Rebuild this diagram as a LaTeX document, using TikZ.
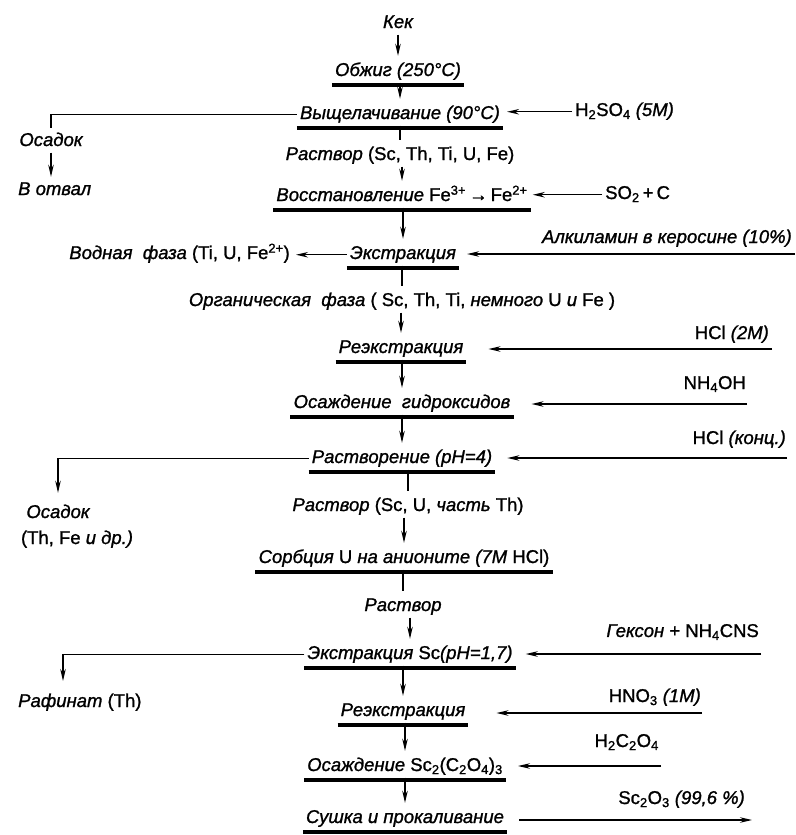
\documentclass[tikz,border=0pt]{standalone}
\usepackage{fontspec}
\setmainfont{Liberation Sans}[FakeBold=1.2]
\usetikzlibrary{arrows.meta}

% upright symbols inside italic labels
\newcommand{\chem}[1]{\textup{#1}}

\begin{document}
\begin{tikzpicture}[x=1pt, y=-1pt,
        every node/.style={font=\fontsize{18.5}{21}\selectfont\itshape, anchor=base,
            inner xsep=3pt, inner ysep=1.5pt, text height=13.5pt, text depth=5pt},
        bar/.style={line width=3.8pt},
        flow/.style={-{Stealth[length=12pt, width=5.5pt]}, line width=1.4pt, shorten >=5pt},
        link/.style={line width=1.4pt, shorten >=5pt}]
        \useasboundingbox (0,0) rectangle (795,835);

        % Main column
        \node (kek)     at (398,28)  {Кек};
        \node (obzhig)  at (398,76)  {Обжиг (250°C)};
        \node (vysh)    at (400,119) {Выщелачивание (90°C)};
        \node (rastv1)  at (400,160) {Раствор \chem{(Sc, Th, Ti, U, Fe)}};
        \node (vosst)   at (402,201) {Восстановление \chem{Fe\textsuperscript{3+}\,→\,Fe\textsuperscript{2+}}};
        \node (ekstr1)  at (403,259) {Экстракция};
        \node (orgf)    at (402,306) {Органическая~~фаза \chem{( Sc, Th, Ti,} немного \chem{U} и \chem{Fe )}};
        \node (reex1)   at (401,353) {Реэкстракция};
        \node (osgidr)  at (402,408) {Осаждение~~гидроксидов};
        \node (rastvor) at (402,463) {Растворение (pH=4)};
        \node (rastv2)  at (408,511) {Раствор \chem{(Sc, U,} часть \chem{Th)}};
        \node (sorb)    at (404,563) {Сорбция \chem{U} на анионите (7M \chem{HCl)}};
        \node (rastv3)  at (403,611) {Раствор};
        \node (ekstrsc) at (410,659) {Экстракция \chem{Sc}(pH=1,7)};
        \node (reex2)   at (403,716) {Реэкстракция};
        \node (ossc)    at (405,771) {Осаждение \chem{Sc\textsubscript{2}(C\textsubscript{2}O\textsubscript{4})\textsubscript{3}}};
        \node (sushka)  at (405,823) {Сушка и прокаливание};

        % Side products
        \node (osadok1) at (51,146) {Осадок};
        \node[anchor=base west] (votval) at (15,195) {В отвал};
        \node[anchor=base east] (vodn) at (293,259) {Водная~~фаза \chem{(Ti, U, Fe\textsuperscript{2+})}};
        \node (osadok2) at (58,518) {Осадок};
        \node (thfe)    at (77,544) {\chem{(Th, Fe} и др.)};
        \node[anchor=base west] (rafinat) at (15,707) {Рафинат \chem{(Th)}};
        \coordinate (raf) at (63,681);

        % Reagents
        \node[anchor=base west] (h2so4) at (572,116) {\chem{H\textsubscript{2}SO\textsubscript{4}} (5M)};
        \node[anchor=base west] (so2)   at (602,199) {\chem{SO\textsubscript{2}\,+\,C}};
        \node[anchor=base east] (alk)    at (795,243) {Алкиламин в керосине (10\%)};
        \node[anchor=base east] (hcl2)   at (772,339) {\chem{HCl} (2M)};
        \node[anchor=base east] (nh4oh)  at (749,389) {\chem{NH\textsubscript{4}OH}};
        \node[anchor=base east] (hclk)   at (789,444) {\chem{HCl} (конц.)};
        \node[anchor=base east] (gekson) at (762,637) {Гексон \chem{+ NH\textsubscript{4}CNS}};
        \node[anchor=base east] (hno3)   at (704,702) {\chem{HNO\textsubscript{3}} (1M)};
        \node[anchor=base east] (h2c2o4) at (662,747) {\chem{H\textsubscript{2}C\textsubscript{2}O\textsubscript{4}}};
        \node[anchor=base east] (sc2o3)  at (748,804) {\chem{Sc\textsubscript{2}O\textsubscript{3}} (99,6 \%)};
        \coordinate (alkin)   at (795,254);
        \coordinate (hcl2in)  at (772,349);
        \coordinate (nh4ohin) at (747,404);
        \coordinate (hclkin)  at (787,458);
        \coordinate (geksin)  at (761,654);
        \coordinate (hno3in)  at (702,713);
        \coordinate (oxin)    at (661,766);
        \coordinate (product) at (752,820);

        % Column flow
        \foreach \a/\b in {kek/obzhig, obzhig/vysh, rastv1/vosst, vosst/ekstr1,
                orgf/reex1, reex1/osgidr, osgidr/rastvor, rastv2/sorb,
                rastv3/ekstrsc, ekstrsc/reex2, reex2/ossc, ossc/sushka}
            \draw[flow] (\b.north |- \a.south) -- (\b.north);
        \foreach \a/\b in {vysh/rastv1, ekstr1/orgf, rastvor/rastv2, sorb/rastv3}
            \draw[link] (\b.north |- \a.south) -- (\b.north);

        % Side branches
        \draw[link, shorten >=3pt] (vysh.west) -| (osadok1.north);
        \draw[flow, shorten >=3pt] (osadok1.south) -- (osadok1.south |- votval.north);
        \draw[flow, shorten >=3pt] (ekstr1.west) -- (vodn.east);
        \draw[flow, shorten >=10pt] (rastvor.west) -| (osadok2.north);
        \draw[flow, shorten >=0pt] (ekstrsc.west) -| (raf);

        % Reagent inputs
        \draw[flow, shorten >=4pt] (h2so4.west) -- (h2so4.west -| vysh.east);
        \draw[flow, shorten >=2pt] (so2.west) -- (so2.west -| vosst.east);
        \draw[flow, shorten >=8pt] (alkin) -- (alkin -| ekstr1.east);
        \draw[flow, shorten >=22pt] (hcl2in) -- (hcl2in -| reex1.east);
        \draw[flow, shorten >=18pt] (nh4ohin) -- (nh4ohin -| osgidr.east);
        \draw[flow, shorten >=12pt] (hclkin) -- (hclkin -| rastvor.east);
        \draw[flow, shorten >=10pt] (geksin) -- (geksin -| ekstrsc.east);
        \draw[flow, shorten >=28pt] (hno3in) -- (hno3in -| reex2.east);
        \draw[flow, shorten >=12pt] (oxin) -- (oxin -| ossc.east);
        \draw[flow, shorten >=0pt] ([xshift=12pt]sushka.east |- product) -- (product);

        % Bars under the stages
        \foreach \n in {obzhig, vysh, vosst, ekstr1, reex1, osgidr, rastvor,
                sorb, ekstrsc, reex2, ossc, sushka}
            \draw[bar] ([yshift=-1.9pt]\n.south west) -- ([yshift=-1.9pt]\n.south east);
    \end{tikzpicture}
\end{document}
